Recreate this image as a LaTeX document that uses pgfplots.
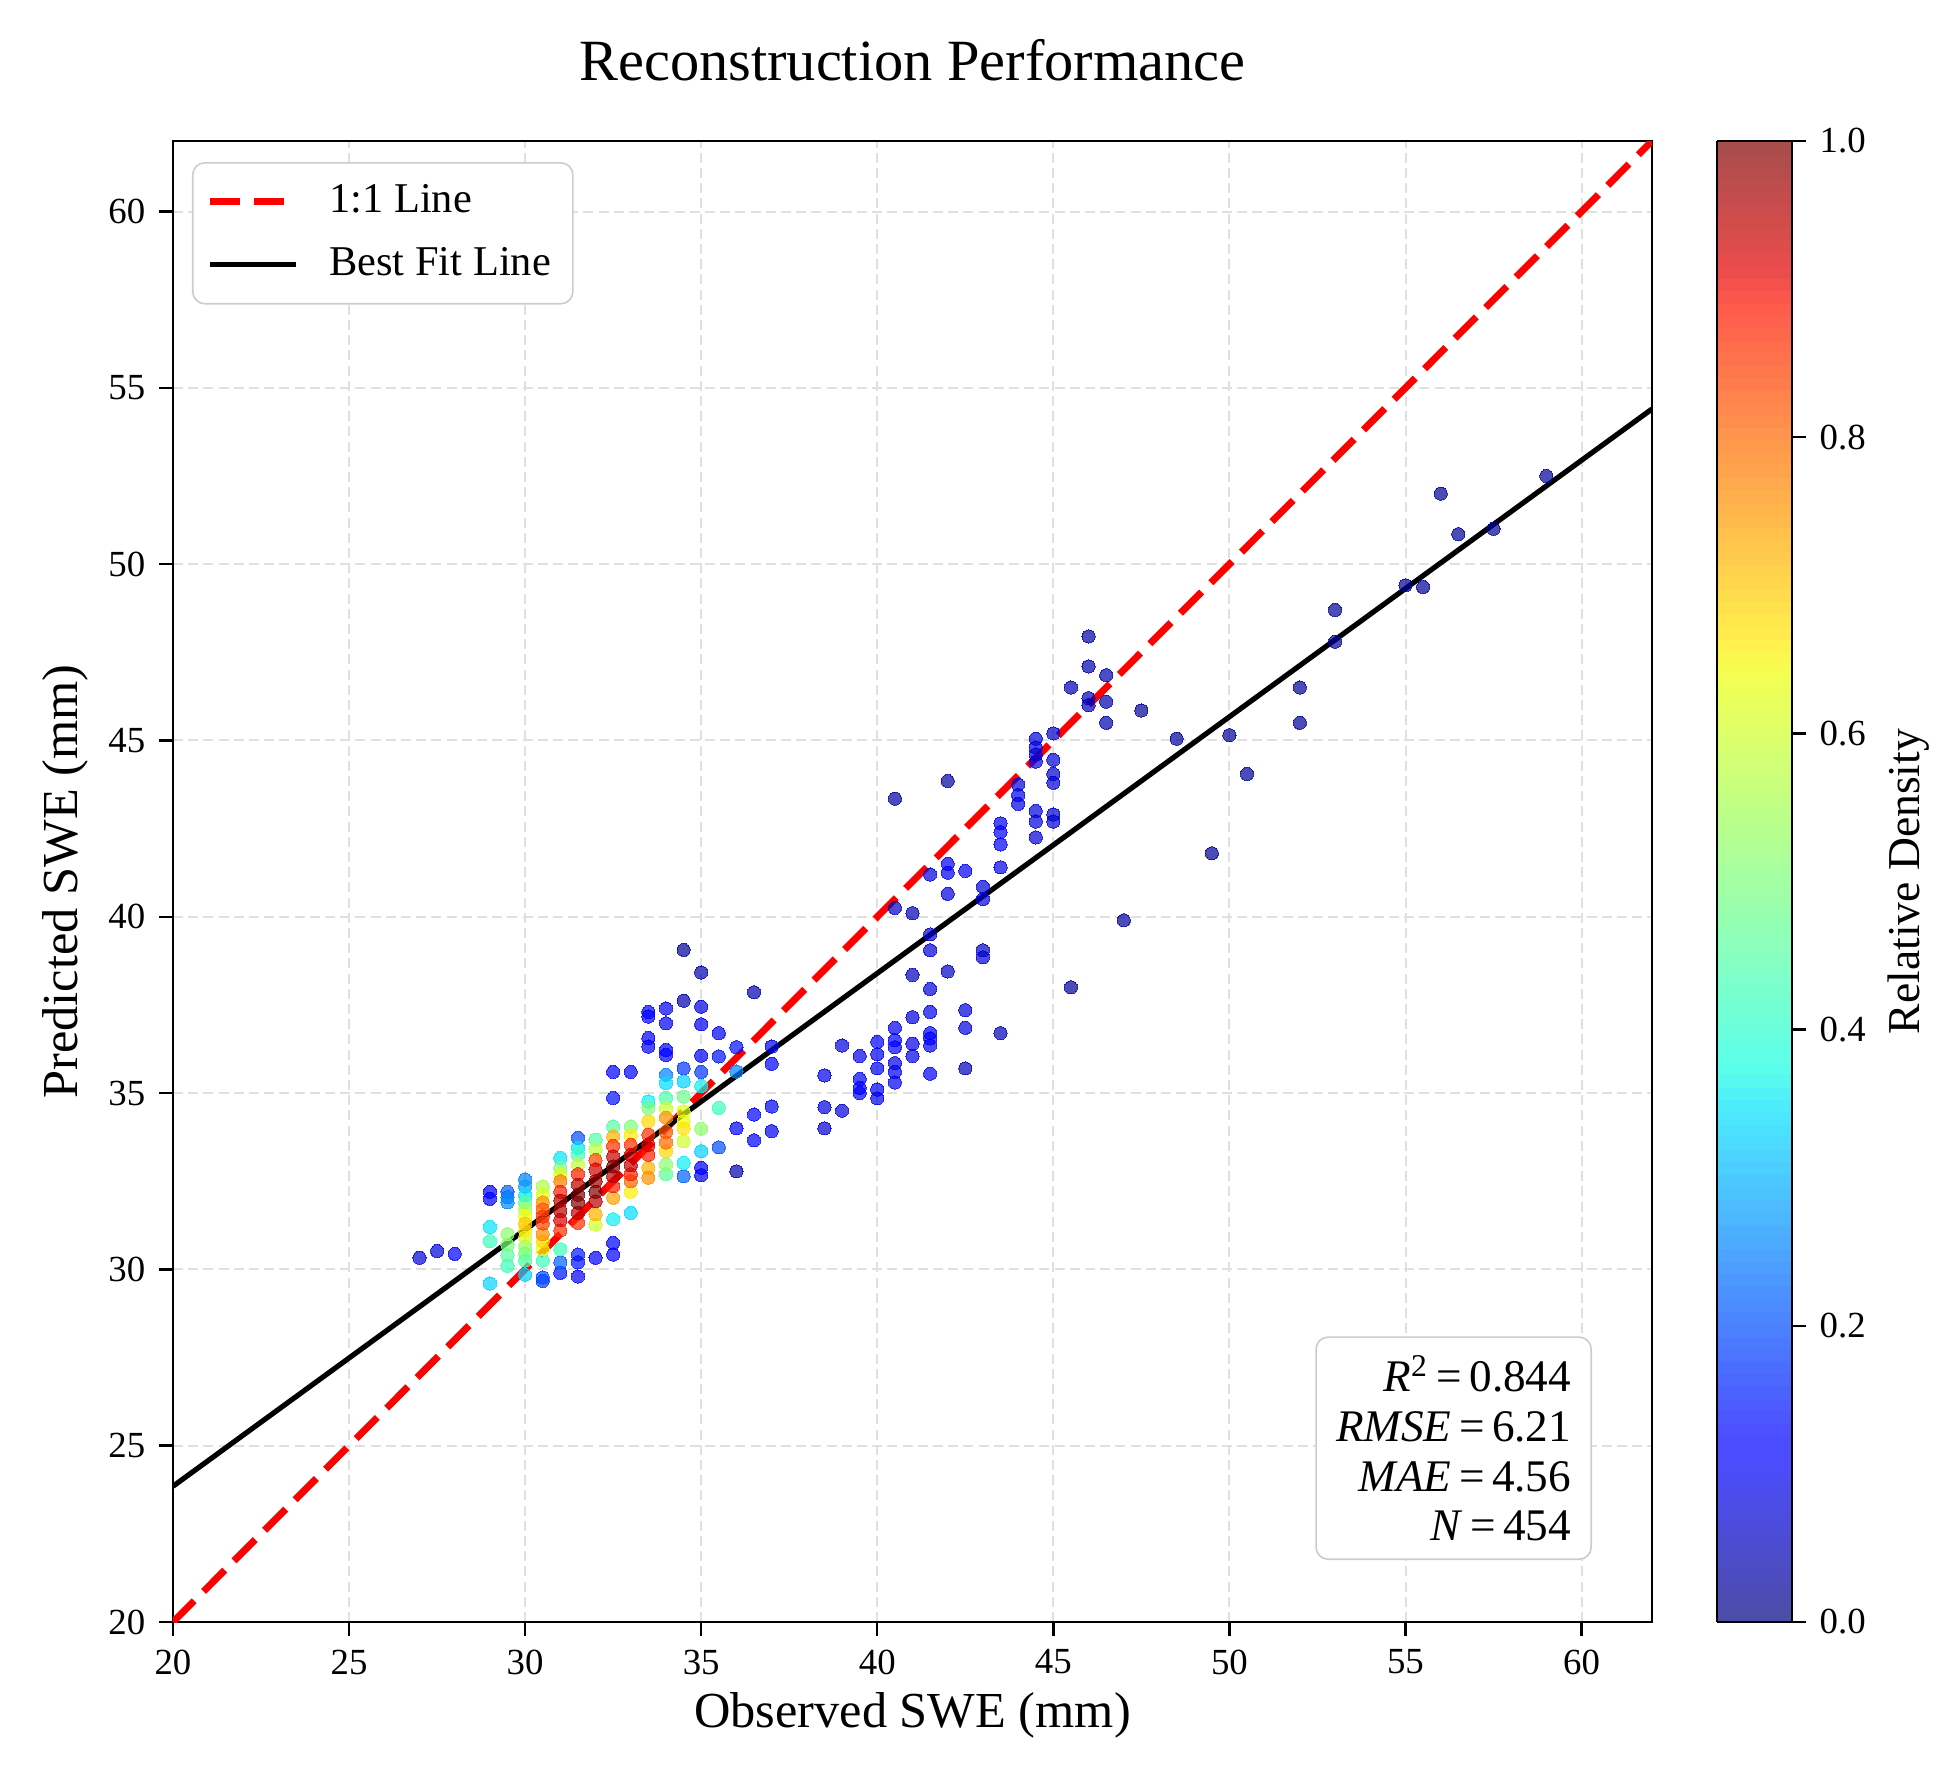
\documentclass[border=0pt]{standalone}
\usepackage{pgfplots}
\pgfplotsset{compat=1.18}
\usepackage{fontspec}
\setmainfont{Liberation Serif}

\pgfplotsset{
  colormap={jetalpha}{rgb(0pt)=(0.3,0.3,0.65); rgb(110pt)=(0.3,0.3,1); rgb(125pt)=(0.3,0.3,1); rgb(340pt)=(0.3,0.902,1); rgb(350pt)=(0.3,0.93,0.978); rgb(375pt)=(0.357,1,0.921); rgb(640pt)=(0.955,1,0.322); rgb(650pt)=(0.978,0.974,0.3); rgb(660pt)=(1,0.948,0.3); rgb(890pt)=(1,0.352,0.3); rgb(910pt)=(0.936,0.3,0.3); rgb(1000pt)=(0.65,0.3,0.3)},
  colormap={jetpure}{rgb(0pt)=(0,0,0.5); rgb(110pt)=(0,0,1); rgb(125pt)=(0,0,1); rgb(340pt)=(0,0.86,1); rgb(350pt)=(0,0.9,0.968); rgb(375pt)=(0.081,1,0.887); rgb(640pt)=(0.935,1,0.032); rgb(650pt)=(0.968,0.963,0); rgb(660pt)=(1,0.926,0); rgb(890pt)=(1,0.074,0); rgb(910pt)=(0.909,0,0); rgb(1000pt)=(0.5,0,0)},
}

\pgfplotstableread{
x y c
59 52.5 0.02
56 52.0 0.02
56.5 50.85 0.02
57.5 51.0 0.02
55 49.4 0.02
55.5 49.35 0.02
53 48.7 0.02
53 47.8 0.02
52 46.5 0.02
52 45.5 0.02
50 45.15 0.02
50.5 44.05 0.02
48.5 45.05 0.02
49.5 41.8 0.02
47.5 45.85 0.02
47 39.9 0.02
45.5 38.0 0.02
46 47.95 0.03
46 47.1 0.04
46.5 46.85 0.04
45.5 46.5 0.04
46 46.2 0.05
46 46.0 0.05
46.5 46.1 0.04
46.5 45.5 0.04
42 43.85 0.03
40.5 43.35 0.03
34.5 39.06 0.02
34.5 37.62 0.04
35 38.42 0.04
36 32.78 0.04
36.5 37.86 0.04
43.5 36.7 0.05
42.5 35.7 0.05
41 40.1 0.05
41 38.35 0.05
45 45.2 0.06
40.5 40.25 0.06
42 38.45 0.06
43 39.05 0.06
45 44.05 0.07
45 43.8 0.07
45 42.9 0.07
45 42.7 0.07
44.5 42.25 0.07
41.5 39.5 0.07
41.5 39.05 0.07
43 38.85 0.07
38.5 34.0 0.07
44.5 45.05 0.08
44.5 44.8 0.08
44.5 44.6 0.08
44.5 44.4 0.08
45 44.45 0.08
44 43.75 0.08
44.5 43.0 0.08
44.5 42.7 0.08
43 40.85 0.08
43 40.5 0.08
42 40.65 0.08
41.5 41.2 0.08
41.5 37.95 0.08
41 37.15 0.08
42.5 37.35 0.08
42.5 36.85 0.08
39 36.35 0.08
38.5 34.6 0.08
39 34.5 0.08
27 30.33 0.08
27.5 30.52 0.08
35 37.45 0.08
44 43.45 0.09
44 43.2 0.09
43.5 41.4 0.09
41.5 37.3 0.09
40.5 36.85 0.09
40 34.85 0.09
40.5 35.85 0.09
41 36.4 0.09
41 36.05 0.09
39.5 36.05 0.09
38.5 35.5 0.09
43.5 42.65 0.1
42 41.5 0.1
42 41.25 0.1
42.5 41.3 0.1
41.5 36.35 0.1
40 36.1 0.1
40 35.7 0.1
40 35.1 0.1
40.5 35.6 0.1
40.5 35.3 0.1
39.5 35.4 0.1
31.5 29.8 0.1
34 37.4 0.1
34 36.98 0.1
35 36.95 0.1
35.5 36.7 0.1
37 36.32 0.1
37 33.92 0.1
43.5 42.4 0.11
43.5 42.05 0.11
41.5 36.7 0.11
41.5 36.55 0.11
40 36.45 0.11
40.5 36.5 0.11
40.5 36.3 0.11
39.5 35.15 0.11
39.5 35.0 0.11
41.5 35.55 0.12
28 30.44 0.12
29 32.2 0.12
29 32.0 0.12
32 30.33 0.12
32.5 35.6 0.12
32.5 30.75 0.12
32.5 30.42 0.12
33 35.6 0.12
33.5 37.3 0.12
33.5 37.17 0.12
33.5 36.56 0.12
33.5 36.32 0.12
34 36.22 0.12
34 36.08 0.12
35 36.06 0.12
35 32.88 0.12
35 32.67 0.12
36 34.0 0.12
36.5 34.39 0.12
36.5 33.66 0.12
37 35.83 0.12
37 34.62 0.12
32.5 34.86 0.14
31 29.9 0.14
31.5 30.2 0.14
35.5 36.04 0.14
36 36.3 0.14
31.5 30.42 0.15
30.5 29.67 0.18
34.5 35.7 0.18
35 35.6 0.18
30.5 29.77 0.2
31.5 33.73 0.2
35.5 33.46 0.2
29.5 32.2 0.22
31 30.2 0.22
34.5 32.64 0.22
29.5 32.05 0.24
30 32.55 0.25
34 35.52 0.25
36 35.61 0.25
29.5 31.9 0.26
30 32.35 0.28
}\lowtab

\pgfplotstableread{
x y c
29 29.6 0.33
30 29.85 0.33
34.5 35.33 0.33
35 33.35 0.33
33 31.6 0.34
34 35.28 0.34
29 31.2 0.35
30 32.1 0.35
31 33.16 0.35
31.5 33.45 0.35
32.5 31.42 0.36
33.5 34.76 0.36
34.5 33.02 0.36
35 35.2 0.36
29 30.8 0.42
29.5 30.1 0.42
30.5 30.25 0.42
31 30.57 0.42
31.5 33.25 0.42
35.5 34.58 0.42
30 30.25 0.44
34 34.86 0.44
29.5 30.4 0.45
30 31.9 0.45
32 33.68 0.45
32.5 34.05 0.45
34 32.7 0.46
30 30.45 0.48
34.5 34.9 0.48
29.5 30.7 0.5
31 32.88 0.5
33 34.05 0.5
33.5 34.58 0.5
29.5 31.0 0.52
30 30.65 0.52
34 32.97 0.52
35 33.99 0.52
30 31.7 0.56
30.5 32.35 0.56
31.5 32.97 0.58
32 33.4 0.58
30 30.9 0.6
32 31.27 0.6
34 34.55 0.6
34.5 33.63 0.6
30.5 32.12 0.62
31 32.7 0.62
34.5 34.48 0.62
30 31.5 0.64
30.5 30.57 0.64
34.5 34.2 0.64
}\midtab

\pgfplotstableread{
x y c
33 33.8 0.66
33 32.2 0.66
30 31.1 0.66
30.5 30.8 0.68
33.5 34.2 0.68
34 33.35 0.68
34.5 34.0 0.67
30 31.3 0.7
32 31.56 0.72
32.5 33.77 0.72
32.5 32.03 0.74
33.5 32.88 0.72
30.5 31.9 0.76
31 32.5 0.78
30.5 31.0 0.76
33.5 32.6 0.76
34 34.3 0.76
33 32.5 0.8
34 33.6 0.8
30.5 31.7 0.82
30.5 31.3 0.84
32 33.1 0.84
34 33.9 0.82
30.5 31.5 0.86
31 32.2 0.88
31 31.1 0.86
31.5 32.7 0.88
31.5 31.32 0.86
32.5 33.5 0.86
32.5 32.36 0.88
33 33.53 0.86
33.5 33.82 0.86
33 32.7 0.88
33.5 33.25 0.88
31 31.4 0.92
32 32.83 0.93
33.5 33.53 0.92
31 31.95 0.95
31 31.65 0.95
31.5 32.4 0.95
31.5 31.6 0.94
32 31.93 0.95
32.5 33.2 0.94
32.5 32.64 0.95
33 33.25 0.93
33 32.95 0.94
32 32.5 0.97
31.5 32.12 1.0
31.5 31.89 1.0
32 32.2 1.0
32.5 32.92 1.0
}\hightab

\begin{document}
\begin{tikzpicture}
\useasboundingbox (-43.25pt,-37.25pt) rectangle (445pt,405.5pt);
\begin{axis}[
  at={(0pt,0pt)}, anchor=south west,
  scale only axis,
  width=369.75pt, height=370.25pt,
  xmin=20, xmax=62, ymin=20, ymax=62,
  xtick={20,25,...,60}, ytick={20,25,...,60},
  tick pos=lower,
  tick align=outside,
  major tick length=3.4pt,
  every tick/.style={black, line width=0.6pt},
  axis line style={line width=0.7pt},
  /pgf/number format/assume math mode=true,
  tick label style={font=\fontsize{9.2}{10}\selectfont},
  grid=major,
  major grid style={black!12, line width=0.5pt, dash pattern=on 2.5pt off 1.3pt},
  title={Reconstruction Performance},
  title style={font=\fontsize{14.6}{16}\selectfont, at={(axis description cs:0.5,1)}, anchor=center, yshift=14.3pt},
  xlabel={Observed SWE (mm)},
  xlabel style={font=\fontsize{12.6}{14}\selectfont, at={(axis description cs:0.5,-0.0628)}, anchor=center},
  ylabel={Predicted SWE (mm)},
  ylabel style={font=\fontsize{12.6}{14}\selectfont, at={(axis description cs:-0.073,0.5)}, anchor=center},
  colormap name=jetpure,
  point meta min=0, point meta max=1,
  colorbar sampled,
  colorbar shift/.style={},
  colorbar style={
    colormap name=jetalpha,
    samples=120,
    at={(parent axis.north east)}, anchor=north west, xshift=16.25pt,
    width=18.75pt,
    grid=none,
    xtick=\empty,
    ytick={0,0.2,0.4,0.6,0.8,1},
    ytick pos=right, yticklabel pos=right,
    tick align=outside,
    major tick length=3.4pt,
    /pgf/number format/assume math mode=true,
    yticklabel style={font=\fontsize{9.2}{10}\selectfont, /pgf/number format/fixed, /pgf/number format/fixed zerofill, /pgf/number format/precision=1},
    ylabel={Relative Density},
    ylabel style={font=\fontsize{11.4}{13}\selectfont, at={(axis description cs:2.56,0.5)}, anchor=center},
  },
  legend cell align=left,
  legend image code/.code={\draw[#1] (0pt,0pt) -- (21.5pt,0pt);},
  legend style={at={(axis description cs:0,1)}, anchor=north west, xshift=4.75pt, yshift=-5.25pt,
    draw=black!20, rounded corners=3pt, fill=white,
    font=\fontsize{10.6}{12}\selectfont, row sep=3.2pt, inner xsep=3.5pt, inner ysep=3.5pt,
    /tikz/every even column/.append style={column sep=4pt},
    /tikz/every odd column/.append style={column sep=5.4pt}},
]
\addplot[scatter, only marks, forget plot, mark=*, mark size=1.65pt, scatter src=explicit,
  scatter/use mapped color={draw=mapped color, fill=mapped color},
  mark options={line width=0pt, opacity=0.7}] table[x=x, y=y, meta=c] {\lowtab};
\addplot[scatter, only marks, forget plot, mark=*, mark size=1.65pt, scatter src=explicit,
  scatter/use mapped color={draw=mapped color, fill=mapped color},
  mark options={line width=0pt, opacity=0.7}] table[x=x, y=y, meta=c] {\midtab};
\addplot[scatter, only marks, forget plot, mark=*, mark size=1.65pt, scatter src=explicit,
  scatter/use mapped color={draw=mapped color, fill=mapped color},
  mark options={line width=0pt, opacity=0.7}] table[x=x, y=y, meta=c] {\hightab};
\addplot[red, line width=1.75pt, dash pattern=on 7.5pt off 3.3pt] coordinates {(20,20) (62,62)};
\addlegendentry{1:1 Line}
\addplot[black, line width=1.3pt] coordinates {(20,23.85) (62,54.4)};
\addlegendentry{Best Fit Line}
\node[draw=black!20, rounded corners=3pt, fill=white, align=right, inner xsep=5pt, inner ysep=4.5pt,
  font=\fontsize{11.3}{12.4}\selectfont, anchor=south east]
  at ([xshift=-15pt, yshift=15.5pt]rel axis cs:1,0)
  {\textit{R}\textsuperscript{2}\,=\,0.844\\ \textit{RMSE}\,=\,6.21\\ \textit{MAE}\,=\,4.56\\ \textit{N}\,=\,454};
\end{axis}
\end{tikzpicture}
\end{document}
